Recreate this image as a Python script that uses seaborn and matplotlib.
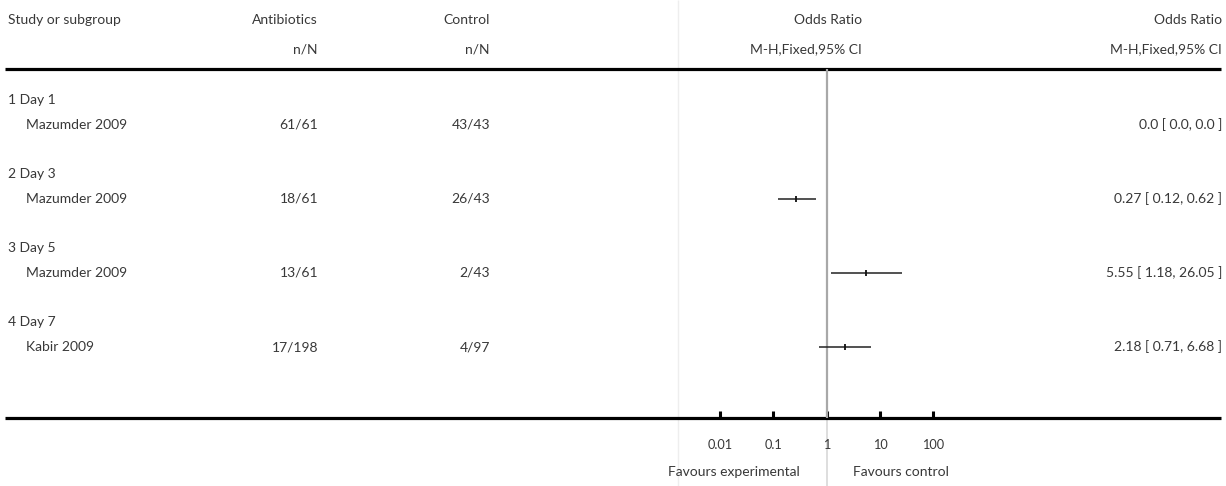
import numpy as np
import pandas as pd
import matplotlib
matplotlib.use("Agg")
import matplotlib.pyplot as plt
import seaborn as sns

# ---- data ----
subgroups = ["1 Day 1", "2 Day 3", "3 Day 5", "4 Day 7"]
studies = ["Mazumder 2009", "Mazumder 2009", "Mazumder 2009", "Kabir 2009"]
antibiotics = ["61/61", "18/61", "13/61", "17/198"]
control = ["43/43", "26/43", "2/43", "4/97"]
odds_ratio = [np.nan, 0.27, 5.55, 2.18]
ci_low = [np.nan, 0.12, 1.18, 0.71]
ci_high = [np.nan, 0.62, 26.05, 6.68]
or_text = ["0.0 [ 0.0, 0.0 ]", "0.27 [ 0.12, 0.62 ]",
           "5.55 [ 1.18, 26.05 ]", "2.18 [ 0.71, 6.68 ]"]
tick_values = [0.01, 0.1, 1, 10, 100]
tick_labels = ["0.01", "0.1", "1", "10", "100"]

sns.set_theme(style="white")
plt.rcParams["font.family"] = ["Lato", "DejaVu Sans"]

W, H = 1226, 486
DPI = 100
TXT = "#383838"
FS = 10.0

fig = plt.figure(figsize=(W / DPI, H / DPI), dpi=DPI)

# row layout: line k sits at pixel y = Y0 + STEP * k
Y0, STEP = 100.0, 24.7
def line_of(px):
    return (px - Y0) / STEP
k_top, k_bottom = line_of(0), line_of(H)

# text/table layer covering the whole figure
tab = fig.add_axes([0, 0, 1, 1])
tab.set_xlim(0, W)
tab.set_ylim(k_bottom, k_top)
tab.axis("off")

# study rows: subgroup header then study line, then a blank line
rows = pd.DataFrame({
    "subgroup": subgroups, "study": studies, "abx": antibiotics,
    "ctl": control, "or": odds_ratio, "lo": ci_low, "hi": ci_high,
    "label": or_text,
})
rows["head_line"] = np.arange(len(rows)) * 3
rows["study_line"] = rows["head_line"] + 1

# columns (right edges / left edges in figure pixels)
X_NAME, X_STUDY = 8, 26
X_ABX, X_CTL, X_ORH, X_ORT = 318, 490, 862, 1222

kw = dict(fontsize=FS, color=TXT, va="center")
hdr1, hdr2 = line_of(20), line_of(49)
tab.text(X_NAME, hdr1, "Study or subgroup", ha="left", **kw)
tab.text(X_ABX, hdr1, "Antibiotics", ha="right", **kw)
tab.text(X_ABX, hdr2, "n/N", ha="right", **kw)
tab.text(X_CTL, hdr1, "Control", ha="right", **kw)
tab.text(X_CTL, hdr2, "n/N", ha="right", **kw)
tab.text(X_ORH, hdr1, "Odds Ratio", ha="right", **kw)
tab.text(X_ORH, hdr2, "M-H,Fixed,95% CI", ha="right", **kw)
tab.text(X_ORT, hdr1, "Odds Ratio", ha="right", **kw)
tab.text(X_ORT, hdr2, "M-H,Fixed,95% CI", ha="right", **kw)

for _, r in rows.iterrows():
    tab.text(X_NAME, r.head_line, r.subgroup, ha="left", **kw)
    tab.text(X_STUDY, r.study_line, r.study, ha="left", **kw)
    tab.text(X_ABX, r.study_line, r.abx, ha="right", **kw)
    tab.text(X_CTL, r.study_line, r.ctl, ha="right", **kw)
    tab.text(X_ORT, r.study_line, r.label, ha="right", **kw)

# horizontal rules and faint column separator
rule_top, rule_bottom = line_of(69), line_of(418)
tab.hlines([rule_top, rule_bottom], 5, 1221, color="black", lw=2.3)
tab.vlines(678, k_top, k_bottom, color="#eeeeee", lw=1.0, zorder=0)

# ---- forest panel on a log scale ----
# one decade spans ~53.3 px; null line at x = 826.7 px
dec = 53.3
x_null = 826.7
half = 2.75
fx0 = x_null - half * dec
fx1 = x_null + half * dec
fy_bottom = 418
ax = fig.add_axes([fx0 / W, 1 - fy_bottom / H, (fx1 - fx0) / W, fy_bottom / H])
ax.set_xscale("log")
ax.set_xlim(10 ** -half, 10 ** half)
ax.set_ylim(line_of(fy_bottom), k_top)
ax.patch.set_alpha(0)
for s in ax.spines.values():
    s.set_visible(False)
ax.set_yticks([])

# null line (darker above the axis, lighter below)
ax.vlines(1, rule_top, line_of(fy_bottom), color="#a8a8a8", lw=1.6, zorder=1)
tab.vlines(x_null, rule_bottom, k_bottom, color="#d8d8d8", lw=1.2, zorder=0)

est = rows.dropna(subset=["or"])
ax.hlines(est["study_line"], est["lo"], est["hi"], color="#222222", lw=1.1, zorder=3)
sns.scatterplot(data=est, x="or", y="study_line", marker="|", s=14,
                color="#111111", linewidth=1.3, ax=ax, zorder=4, legend=False)
ax.set_xlabel("")
ax.set_ylabel("")

ax.set_xticks(tick_values)
ax.set_xticklabels(tick_labels)
ax.xaxis.set_minor_locator(matplotlib.ticker.NullLocator())
ax.tick_params(axis="x", direction="in", length=5, width=2.2, color="black",
               labelsize=FS - 0.8, labelcolor=TXT, pad=15, bottom=True)

tab.text(800, line_of(472), "Favours experimental", ha="right", **kw)
tab.text(853, line_of(472), "Favours control", ha="left", **kw)
tab.set_ylim(k_bottom, k_top)

fig.savefig("out.png", dpi=DPI)
